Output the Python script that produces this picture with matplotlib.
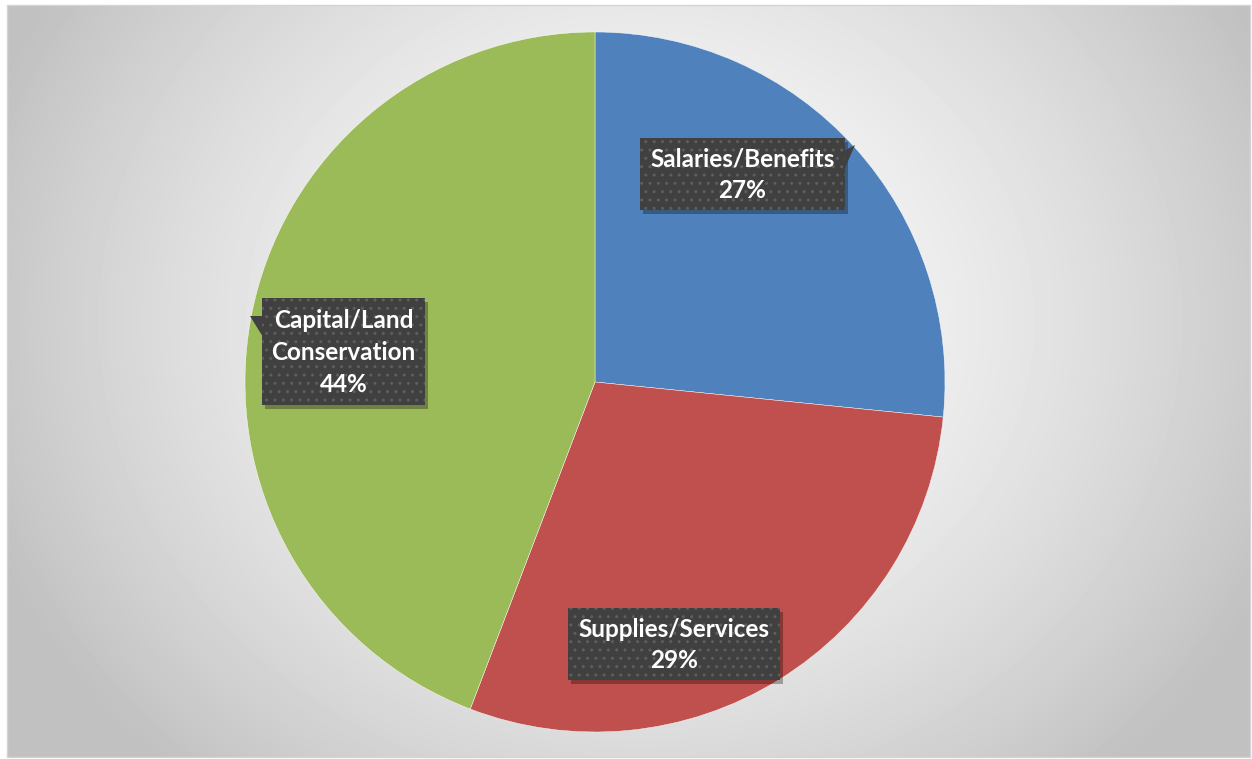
#import libraries
import matplotlib
matplotlib.use("Agg")
import matplotlib.pyplot as plt
from matplotlib.patches import Rectangle, Polygon
import numpy as np

#data
categories = ["Salaries/Benefits", "Supplies/Services", "Capital/Land Conservation"]
values = [26.6, 29.2, 44.2]
colors = ["#4f81bd", "#c0504d", "#9bbb59"]

#GLOBAL layout (pixels)
W, H = 1252, 759
chart_box = (7, 5, 1250, 757)
pie_center = (595, 382)
pie_r = 350
#label boxes: x0, y0, x1, y1
label_boxes = [(640, 138, 845, 210), (568, 608, 780, 680), (262, 298, 425, 405)]
#callout pointers (None = no pointer)
pointers = [[(844, 151), (855, 145), (845, 168)], None,
            [(263, 316), (250, 316), (263, 337)]]

fig = plt.figure(figsize=(W / 100, H / 100), dpi=100)
fig.patch.set_facecolor("white")

#background with radial gradient
bg = fig.add_axes([0, 0, 1, 1])
bg.axis("off")
x0, y0, x1, y1 = chart_box
xx, yy = np.meshgrid(np.arange(x0, x1), np.arange(y0, y1))
d = np.sqrt(((xx - 640) / 640.0) ** 2 + ((yy - 320) / 560.0) ** 2)
shade = np.clip(252 - 52 * d ** 1.6, 193, 255) / 255.0
bg.imshow(shade, cmap="gray", vmin=0, vmax=1, extent=(x0, x1, y1, y0),
          interpolation="bilinear", aspect="auto")
bg.add_patch(Rectangle((x0, y0), x1 - x0, y1 - y0, fill=False,
                       edgecolor="#d4d4d4", linewidth=1.0))
bg.set_xlim(0, W)
bg.set_ylim(H, 0)

#pie
cx, cy = pie_center
ax = fig.add_axes([(cx - pie_r) / W, (H - cy - pie_r) / H, 2 * pie_r / W, 2 * pie_r / H])
ax.pie(values, colors=colors, startangle=90, counterclock=False, radius=1,
       wedgeprops=dict(edgecolor="white", linewidth=0.3))
ax.set_xlim(-1, 1)
ax.set_ylim(-1, 1)

#labels overlay
ov = fig.add_axes([0, 0, 1, 1])
ov.set_xlim(0, W)
ov.set_ylim(H, 0)
ov.axis("off")
ov.patch.set_alpha(0)

for cat, val, box, ptr in zip(categories, values, label_boxes, pointers):
    bx0, by0, bx1, by1 = box
    #shadow
    ov.add_patch(Rectangle((bx0 + 3, by0 + 4), bx1 - bx0, by1 - by0,
                           facecolor="black", alpha=0.3, linewidth=0))
    if ptr is not None:
        ov.add_patch(Polygon(ptr, closed=True, facecolor="#404040", linewidth=0))
    ov.add_patch(Rectangle((bx0, by0), bx1 - bx0, by1 - by0, facecolor="#404040",
                           edgecolor="#5e5e5e", hatch="..", linewidth=0))
    txt = cat.replace(" ", "\n") + "\n" + "%.0f%%" % val
    ov.text((bx0 + bx1) / 2, (by0 + by1) / 2 + 1, txt, ha="center", va="center",
            color="white", fontsize=17.5, fontweight="bold", family="Lato",
            linespacing=1.45)

fig.savefig("out.png", dpi=100, facecolor="white")
